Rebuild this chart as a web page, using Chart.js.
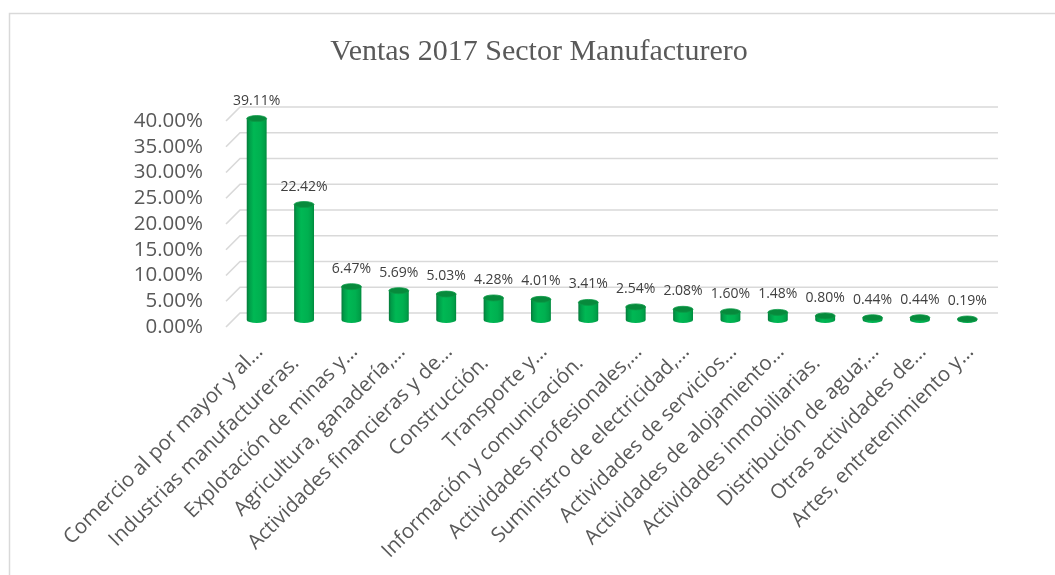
<!DOCTYPE html>
<html>
<head>
<meta charset="utf-8">
<style>
  html, body { margin: 0; padding: 0; background: #ffffff; }
  #wrap { width: 1055px; height: 575px; }
</style>
<script src="https://cdn.jsdelivr.net/npm/chart.js@4.4.1/dist/chart.umd.min.js"></script>
</head>
<body>
<div id="wrap"><canvas id="c" width="1055" height="575"></canvas></div>
<script>
// Sales share by economic sector, 2017 (percent of total)
const chartTitle = 'Ventas 2017 Sector Manufacturero';
// sector names as stored in the source sheet (full names keep their trailing spaces)
const sectors = [
  'Comercio al por mayor y al…',
  'Industrias manufactureras.   ',
  'Explotación de minas y…',
  'Agricultura, ganadería,…',
  'Actividades financieras y de…',
  'Construcción.   ',
  'Transporte y…',
  'Información y comunicación.   ',
  'Actividades profesionales,…',
  'Suministro de electricidad,…',
  'Actividades de servicios…',
  'Actividades de alojamiento…',
  'Actividades inmobiliarias.   ',
  'Distribución de agua;…',
  'Otras actividades de…',
  'Artes, entretenimiento y…'
];
const salesShare = [39.11, 22.42, 6.47, 5.69, 5.03, 4.28, 4.01, 3.41, 2.54, 2.08, 1.60, 1.48, 0.80, 0.44, 0.44, 0.19];
const yTickValues = [0, 5, 10, 15, 20, 25, 30, 35, 40];

const TEXT = '#595959';
const GRID = '#d9d9d9';
const DEPTH_X = 7;   // half depth of the 3D floor, horizontal
const DEPTH_Y = 7;   // half depth of the 3D floor, vertical
const CAP_RY = 3;    // vertical radius of cylinder caps
const BAR_FRACTION = 0.42;

function pct(v) { return v.toFixed(2) + '%'; }

function cylinderGradient(ctx, x, w) {
  const g = ctx.createLinearGradient(x - w / 2, 0, x + w / 2, 0);
  g.addColorStop(0, '#06793a');
  g.addColorStop(0.12, '#009c48');
  g.addColorStop(0.35, '#00b854');
  g.addColorStop(0.7, '#00b050');
  g.addColorStop(0.9, '#00a048');
  g.addColorStop(1, '#00893d');
  return g;
}

// Chart frame, title and the receding 3D grid
const framePlugin = {
  id: 'frame',
  beforeDraw(chart) {
    const ctx = chart.ctx;
    ctx.save();
    ctx.fillStyle = '#ffffff';
    ctx.fillRect(0, 0, chart.width, chart.height);
    ctx.strokeStyle = GRID;
    ctx.lineWidth = 1.5;
    ctx.strokeRect(9.5, 13.5, chart.width + 20, chart.height + 20);
    ctx.fillStyle = TEXT;
    ctx.font = '30px "Liberation Serif", "Times New Roman", serif';
    ctx.textAlign = 'center';
    ctx.textBaseline = 'middle';
    ctx.fillText(chartTitle, 539, 52);
    ctx.restore();
  },
  beforeDatasetsDraw(chart) {
    const ctx = chart.ctx;
    const ys = chart.scales.y;
    const area = chart.chartArea;
    ctx.save();
    ctx.strokeStyle = GRID;
    ctx.lineWidth = 1.6;
    yTickValues.forEach(v => {
      const y = ys.getPixelForValue(v);
      ctx.beginPath();
      ctx.moveTo(area.left - DEPTH_X, y + DEPTH_Y);
      ctx.lineTo(area.left + DEPTH_X, y - DEPTH_Y);
      ctx.lineTo(area.right + DEPTH_X, y - DEPTH_Y);
      ctx.stroke();
    });
    ctx.restore();
  }
};

// Cylinder caps and value labels on top of the library's bars
const cylinderPlugin = {
  id: 'cylinder',
  afterDatasetsDraw(chart) {
    const ctx = chart.ctx;
    const meta = chart.getDatasetMeta(0);
    ctx.save();
    meta.data.forEach((bar, i) => {
      const p = bar.getProps(['x', 'y', 'base', 'width'], true);
      const rx = p.width / 2;
      // rounded bottom
      ctx.beginPath();
      ctx.ellipse(p.x, p.base, rx, CAP_RY, 0, 0, Math.PI);
      ctx.fillStyle = cylinderGradient(ctx, p.x, p.width);
      ctx.fill();
      // top cap
      ctx.beginPath();
      ctx.ellipse(p.x, p.y, rx, CAP_RY, 0, 0, Math.PI * 2);
      ctx.fillStyle = '#078a3c';
      ctx.fill();
      ctx.strokeStyle = '#0a9a46';
      ctx.lineWidth = 0.8;
      ctx.stroke();
      // value label
      ctx.fillStyle = '#404040';
      ctx.font = '14px "Open Sans", sans-serif';
      ctx.textAlign = 'center';
      ctx.textBaseline = 'middle';
      ctx.fillText(pct(salesShare[i]), p.x, p.y - 18);
    });
    ctx.restore();
  }
};

new Chart(document.getElementById('c'), {
  type: 'bar',
  data: {
    labels: sectors,
    datasets: [{
      data: salesShare,
      backgroundColor(context) {
        const chart = context.chart;
        const xs = chart.scales && chart.scales.x;
        if (!xs || !chart.chartArea || !xs.width) return '#00b050';
        const x = xs.getPixelForValue(context.dataIndex);
        const w = xs.width / sectors.length * BAR_FRACTION;
        return cylinderGradient(chart.ctx, x, w);
      },
      borderWidth: 0,
      barPercentage: BAR_FRACTION,
      categoryPercentage: 1
    }]
  },
  options: {
    responsive: false,
    animation: false,
    events: [],
    layout: { padding: { top: 114, right: 64, bottom: 10, left: 0 } },
    plugins: {
      legend: { display: false },
      title: { display: false },
      tooltip: { enabled: false }
    },
    scales: {
      x: {
        grid: { display: false },
        border: { display: false },
        afterFit(scale) { scale.height = 245; },
        ticks: {
          autoSkip: false,
          minRotation: 45,
          maxRotation: 45,
          padding: 12,
          labelOffset: 3,
          color: TEXT,
          font: { family: '"Open Sans", sans-serif', size: 20.5 }
        }
      },
      y: {
        min: 0,
        max: 40,
        grid: { display: false },
        border: { display: false },
        afterFit(scale) { scale.width = 233; },
        afterBuildTicks(scale) { scale.ticks = yTickValues.map(v => ({ value: v })); },
        ticks: {
          autoSkip: false,
          padding: 22,
          labelOffset: 7,
          color: TEXT,
          font: { family: '"Open Sans", sans-serif', size: 20.5 },
          callback: v => pct(v)
        }
      }
    }
  },
  plugins: [framePlugin, cylinderPlugin]
});
</script>
</body>
</html>
